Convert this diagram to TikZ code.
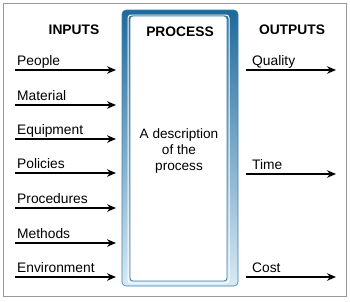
\documentclass[tikz,border=0pt]{standalone}
\usepackage{fontspec}
\setmainfont{Liberation Sans}
\usetikzlibrary{arrows.meta}
\definecolor{frametop}{HTML}{1E6A9C}
\definecolor{framemid}{HTML}{6AA6CC}
\definecolor{framebot}{HTML}{D8EAF4}
\definecolor{frameline}{HTML}{3A7FAE}
\tikzset{
  flow/.style={line width=1.3pt, -{Stealth[length=9pt,width=7.5pt]}},
  lbl/.style={anchor=base west, inner sep=0pt, font=\fontsize{13.8}{15}\selectfont},
  head/.style={inner sep=0pt, font=\fontsize{13.8}{15}\selectfont\bfseries},
  desc/.style={inner sep=0pt, align=center, font=\fontsize{13.6}{15.8}\selectfont},
}
\begin{document}
\begin{tikzpicture}[x=1pt,y=-1pt]
\useasboundingbox (0,0) rectangle (350,301);
\draw[gray!80, line width=1pt] (3,3) rectangle (346,296);
% process frame
\shade[top color=frametop, middle color=framemid, bottom color=framebot, rounded corners=4pt]
  (122,10) rectangle (238,286);
\draw[frameline, line width=0.6pt, rounded corners=4pt] (122,10) rectangle (238,286);
\draw[white, line width=1pt, rounded corners=3pt] (128,15) rectangle (229,283);
\fill[white, rounded corners=3pt] (130,16) rectangle (227,281);
\draw[frameline, line width=0.8pt, rounded corners=3pt] (130,16) rectangle (227,281);
% headings
\node[head] (hin) at (74,30) {INPUTS};
\node[head] (hproc) at (180,32) {PROCESS};
\node[head] (hout) at (292,30) {OUTPUTS};
\node[desc] (desc) at (179,151) {A description\\of the\\process};
% inputs
\foreach \y/\t [count=\i] in {70/People,105/Material,139/Equipment,173/Policies,208/Procedures,243/Methods,277/Environment}{
  \coordinate (is\i) at (15,\y);
  \coordinate (ie\i) at (116,\y);
  \node[lbl] (il\i) at (17,\y-4.5) {\t};
  \draw[flow] (is\i) -- (ie\i);
}
% outputs
\foreach \y/\t [count=\i] in {70/Quality,174/Time,277/Cost}{
  \coordinate (os\i) at (246,\y);
  \coordinate (oe\i) at (336,\y);
  \node[lbl] (ol\i) at (252,\y-4.5) {\t};
  \draw[flow] (os\i) -- (oe\i);
}
\end{tikzpicture}
\end{document}
